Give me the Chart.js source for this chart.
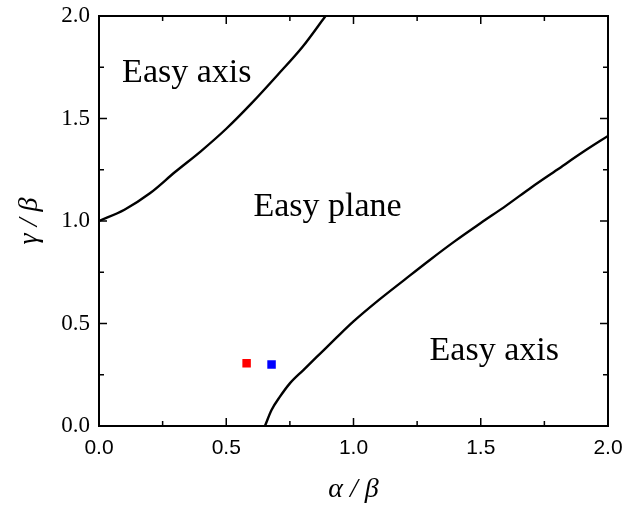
<!DOCTYPE html>
<html>
<head>
<meta charset="utf-8">
<script src="https://cdn.jsdelivr.net/npm/chart.js@4.4.0/dist/chart.umd.min.js"></script>
<style>
  body { margin: 0; background: #fff; }
  #wrap { width: 625px; height: 508px; position: relative; }
</style>
</head>
<body>
<div id="wrap"><canvas id="phase"></canvas></div>
<script>
// boundary: easy axis (top-left) / easy plane
const upperAlpha = [0, 0.1, 0.2, 0.3, 0.4, 0.5, 0.6, 0.7, 0.8, 0.89];
const upperGamma = [1.0, 1.055, 1.135, 1.24, 1.34, 1.45, 1.575, 1.71, 1.85, 2.0];

// boundary: easy plane / easy axis (bottom-right)
const lowerAlpha = [0.652, 0.678, 0.711, 0.75, 0.803, 0.868, 0.934, 1.0, 1.1, 1.2, 1.3, 1.4, 1.5, 1.6, 1.7, 1.8, 1.9, 2.0];
const lowerGamma = [0, 0.078, 0.143, 0.208, 0.273, 0.352, 0.432, 0.51, 0.615, 0.713, 0.81, 0.903, 0.99, 1.075, 1.165, 1.25, 1.335, 1.415];

// the two marked samples
const sampleAlpha = [0.58, 0.678];
const sampleGamma = [0.306, 0.30];
const sampleColors = ["#ff0000", "#0000ff"];

const regionNames = ["Easy axis", "Easy plane", "Easy axis"];
const regionAlpha = [0.345, 0.898, 1.553];
const regionGamma = [1.68, 1.026, 0.322];

const toPoints = (xs, ys) => xs.map((x, i) => ({ x: x, y: ys[i] }));

// inward ticks on all four sides + frame + region labels
const framePlugin = {
  id: "frame",
  afterDatasetsDraw(chart) {
    const { ctx, chartArea: a, scales: { x, y } } = chart;
    ctx.save();
    ctx.strokeStyle = "#000";
    ctx.lineWidth = 1.5;
    for (let v = 0; v <= 2.0001; v += 0.25) {
      const len = Math.abs(v / 0.5 - Math.round(v / 0.5)) < 1e-6 ? 8 : 5;
      const px = x.getPixelForValue(v);
      const py = y.getPixelForValue(v);
      ctx.beginPath();
      ctx.moveTo(px, a.bottom); ctx.lineTo(px, a.bottom - len);
      ctx.moveTo(px, a.top); ctx.lineTo(px, a.top + len);
      ctx.moveTo(a.left, py); ctx.lineTo(a.left + len, py);
      ctx.moveTo(a.right, py); ctx.lineTo(a.right - len, py);
      ctx.stroke();
    }
    ctx.lineWidth = 2;
    ctx.strokeRect(a.left, a.top, a.right - a.left, a.bottom - a.top);

    ctx.fillStyle = "#000";
    ctx.font = "34px 'Liberation Serif', serif";
    ctx.textAlign = "center";
    ctx.textBaseline = "alphabetic";
    regionNames.forEach((t, i) => {
      ctx.fillText(t, x.getPixelForValue(regionAlpha[i]), y.getPixelForValue(regionGamma[i]));
    });
    ctx.restore();
  }
};

const curveStyle = {
  showLine: true,
  borderColor: "#000",
  borderWidth: 2.4,
  pointRadius: 0,
  cubicInterpolationMode: "monotone"
};

new Chart(document.getElementById("phase"), {
  type: "scatter",
  data: {
    datasets: [
      Object.assign({ data: toPoints(upperAlpha, upperGamma) }, curveStyle),
      Object.assign({ data: toPoints(lowerAlpha, lowerGamma) }, curveStyle),
      {
        data: toPoints(sampleAlpha, sampleGamma),
        pointStyle: "rect",
        pointRadius: 6,
        borderWidth: 0,
        backgroundColor: sampleColors
      }
    ]
  },
  options: {
    responsive: true,
    maintainAspectRatio: false,
    animation: false,
    layout: { padding: { top: 16, right: 17, left: 0, bottom: 0 } },
    plugins: { legend: { display: false }, tooltip: { enabled: false } },
    scales: {
      x: {
        min: 0, max: 2,
        grid: { display: false, drawTicks: false },
        border: { display: false },
        ticks: {
          stepSize: 0.5,
          padding: 10,
          color: "#000",
          font: { family: "'Liberation Sans', Arial, sans-serif", size: 21 },
          callback: v => v.toFixed(1)
        },
        title: {
          display: true,
          text: "α / β",
          color: "#000",
          font: { family: "'Liberation Serif', serif", size: 28, style: "italic" },
          padding: { top: 0, bottom: 2 }
        },
        afterFit: s => {
          s.height = 82;
          s.paddingLeft = 0;
          s.paddingRight = 0;
        }
      },
      y: {
        min: 0, max: 2,
        grid: { display: false, drawTicks: false },
        border: { display: false },
        ticks: {
          stepSize: 0.5,
          padding: 9,
          color: "#000",
          font: { family: "'Liberation Serif', serif", size: 23 },
          callback: v => v.toFixed(1)
        },
        title: {
          display: true,
          text: "γ / β",
          color: "#000",
          font: { family: "'Liberation Serif', serif", size: 28, style: "italic" },
          padding: { top: 13, bottom: 0 }
        },
        afterFit: s => {
          s.width = 99;
          s.paddingTop = 0;
          s.paddingBottom = 0;
        }
      }
    }
  },
  plugins: [framePlugin]
});
</script>
</body>
</html>
